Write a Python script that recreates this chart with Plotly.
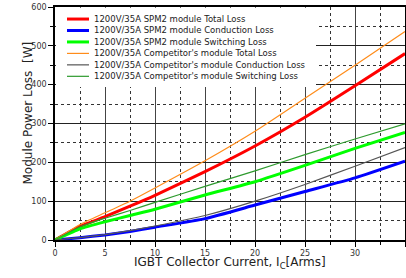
import plotly.graph_objects as go

# ---- data ----
current = [0, 2.5, 5, 7.5, 10, 15, 20, 25, 30, 35]
spm2_total = [0, 35, 60, 87, 115, 176, 242, 316, 397, 480]
spm2_cond = [0, 6, 13, 22, 33, 55, 90, 125, 160, 203]
spm2_sw = [0, 29, 47, 63, 79, 116, 150, 192, 236, 277]
comp_total = [0, 40, 70, 100, 134, 204, 280, 365, 450, 537]
comp_cond = [0, 6, 14, 24, 36, 63, 100, 143, 190, 238]
comp_sw = [0, 34, 56, 76, 97, 138, 178, 220, 260, 299]

names = [
    "1200V/35A SPM2 module Total Loss",
    "1200V/35A SPM2 module Conduction Loss",
    "1200V/35A SPM2 module Switching Loss",
    "1200V/35A Competitor's module Total Loss",
    "1200V/35A Competitor's module Conduction Loss",
    "1200V/35A Competitor's module Switching Loss",
]
series = [spm2_total, spm2_cond, spm2_sw, comp_total, comp_cond, comp_sw]
colors = ["#ff0000", "#0000ff", "#00ff00", "#ff8c1a", "#555555", "#2e9a2e"]
widths = [3, 3, 3, 1.2, 1.2, 1.2]

y_ticks = [0, 100, 200, 300, 400, 500, 600]
x_ticks = [0, 5, 10, 15, 20, 25, 30, 35]

x_title = "IGBT Collector Current, I<sub>C</sub>[Arms]"
y_title = "Module Power Loss  [W]"

fig = go.Figure()
for n, s, c, w in zip(names, series, colors, widths):
    fig.add_trace(go.Scatter(x=current, y=s, mode="lines", name=n,
                             line=dict(color=c, width=w, shape="spline", smoothing=0.5),
                             showlegend=False, hoverinfo="skip"))

# manual legend (compact rows) with white background box
shapes = [dict(type="rect", xref="x", yref="y", x0=0.1, x1=26.1, y0=394, y1=598,
               fillcolor="white", line=dict(width=0), layer="above")]
annotations = []
for i, (n, c, w) in enumerate(zip(names, colors, widths)):
    yy = 569 - i * 29.5
    shapes.append(dict(type="line", xref="x", yref="y", x0=1.2, x1=3.4, y0=yy, y1=yy,
                       line=dict(color=c, width=w), layer="above"))
    annotations.append(dict(x=3.8, y=yy, xref="x", yref="y", text=n, showarrow=False,
                            xanchor="left", yanchor="middle", borderpad=0,
                            font=dict(family="DejaVu Sans", size=8.5, color="#222")))

annotations.append(dict(x=0.5, y=0, xref="paper", yref="paper", text=x_title,
                        showarrow=False, xanchor="center", yanchor="top", yshift=-14,
                        borderpad=0,
                        font=dict(family="DejaVu Sans", size=12, color="#222")))
annotations.append(dict(x=0, y=0.5, xref="paper", yref="paper", text=y_title,
                        showarrow=False, xanchor="center", yanchor="middle",
                        xshift=-28, yshift=10, textangle=-90, borderpad=0,
                        font=dict(family="DejaVu Sans", size=12, color="#222")))

fig.update_layout(
    width=406, height=278,
    margin=dict(l=55, r=1, t=7, b=38),
    paper_bgcolor="white", plot_bgcolor="white",
    shapes=shapes, annotations=annotations,
    font=dict(family="DejaVu Sans", color="#333"),
)
fig.update_xaxes(
    range=[0, 35], tickvals=x_ticks, ticktext=[str(v) for v in x_ticks],
    automargin=False,
    showline=True, linecolor="black", linewidth=1.5, mirror=True,
    ticks="outside", ticklen=5, tickcolor="black",
    showgrid=True, gridcolor="#444", gridwidth=1.3,
    minor=dict(dtick=2.5, showgrid=True, griddash="dot", gridcolor="#333",
               gridwidth=1, ticks="outside", ticklen=3, tickcolor="black"),
    tickfont=dict(size=8, color="#333"),
    zeroline=False,
)
fig.update_yaxes(
    range=[0, 600], tickvals=y_ticks, ticktext=[str(v) for v in y_ticks],
    automargin=False,
    showline=True, linecolor="black", linewidth=1.5, mirror=True,
    ticks="outside", ticklen=5, tickcolor="black",
    showgrid=True, gridcolor="#222", gridwidth=1.3,
    minor=dict(dtick=50, showgrid=True, griddash="dot", gridcolor="#333",
               gridwidth=1, ticks="outside", ticklen=3, tickcolor="black"),
    tickfont=dict(size=8, color="#333"),
    zeroline=False,
)

fig.write_html("out.html", config={"displayModeBar": False},
               post_script="document.body.style.margin='0';document.body.style.overflow='hidden';")
